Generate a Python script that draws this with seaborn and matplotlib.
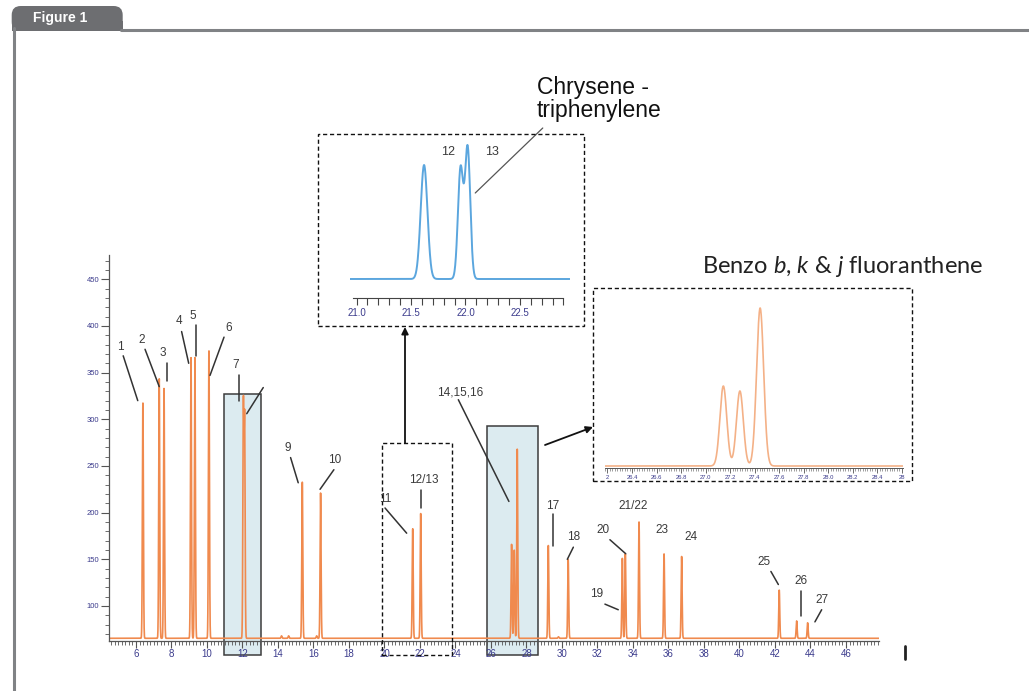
import numpy as np
import pandas as pd
import matplotlib
matplotlib.use("Agg")
import matplotlib.pyplot as plt
import seaborn as sns
from matplotlib.patches import Rectangle, FancyBboxPatch, FancyArrowPatch
from matplotlib.lines import Line2D
from matplotlib.ticker import MultipleLocator, FixedLocator

sns.set_style("white")
plt.rcParams['font.family'] = ['Liberation Sans', 'DejaVu Sans']
plt.rcParams['mathtext.fontset'] = 'custom'
plt.rcParams['mathtext.it'] = 'Lato:italic'

# ---- main chromatogram: retention time (min) and apex height of each peak
peak_times = [6.39, 7.31, 7.58, 9.10, 9.32, 10.11, 12.05, 12.12, 14.20, 14.60,
              15.37, 16.18, 16.40, 21.59, 22.04, 27.16, 27.31, 27.48, 29.23,
              29.80, 30.35, 33.40, 33.57, 34.34, 35.75, 36.74, 42.24, 43.22, 43.84]
peak_heights = [318, 344, 333, 366, 366, 374, 314, 298, 68, 68,
                233, 68, 221, 183, 199, 166, 160, 268, 165,
                67, 150, 151, 156, 190, 156, 153, 117, 84, 82]
baseline = 65.4

# peak labels and their leader lines (data units of the main chart)
labels = ['1', '2', '3', '4', '5', '6', '7', '9', '10', '11', '12/13', '14,15,16',
          '17', '18', '19', '20', '21/22', '23', '24', '25', '26', '27']
label_t = [5.10, 6.34, 7.52, 8.42, 9.21, 11.24, 11.63, 14.53, 17.21, 20.03, 22.19,
           24.25, 29.47, 30.64, 31.95, 32.33, 34.02, 35.62, 37.25, 41.38, 43.45, 44.66]
label_v = [377, 385, 371, 405, 411, 398, 358, 269, 256, 215, 235,
           329, 207, 174, 113, 181, 207, 181, 174, 147, 127, 106]
leaders = [((5.28, 368), (6.10, 320)), ((6.51, 375), (7.31, 335)),
           ((7.73, 360), (7.73, 341)), ((8.57, 394), (8.97, 360)),
           ((9.36, 401), (9.36, 368)), ((10.96, 388), (10.17, 347)),
           ((11.82, 347), (11.82, 320)), ((13.17, 334), (12.24, 306)),
           ((14.71, 259), (15.14, 232)), ((17.15, 246), (16.37, 225)),
           ((20.03, 205), (21.25, 178)), ((22.06, 224), (22.06, 205)),
           ((24.16, 321), (27.01, 212)), ((29.47, 199), (29.47, 164)),
           ((30.64, 163), (30.30, 150)), ((32.42, 102), (33.17, 96)),
           ((32.70, 171), (33.59, 156)), ((41.77, 137), (42.19, 123)),
           ((43.45, 116), (43.45, 89)), ((44.63, 96), (44.25, 83))]

# ---- inset 1: chrysene / triphenylene (peaks 11, 12, 13)
ins1_times = [21.62, 21.955, 22.02]
ins1_heights = [114, 110, 131]
ins1_widths = [0.031, 0.024, 0.024]
ins1_ticklabels = ['21.0', '21.5', '22.0', '22.5']

# ---- inset 2: benzo b, k & j fluoranthene (peaks 14-16)
ins2_times = [27.145, 27.28, 27.445]
ins2_heights = [80, 75, 158]
ins2_widths = [0.028, 0.028, 0.029]
ins2_ticks = [26.2, 26.4, 26.6, 26.8, 27.0, 27.2, 27.4, 27.6, 27.8, 28.0, 28.2, 28.4, 28.6]
ins2_ticklabels = ['2', '26.4', '26.6', '26.8', '27.0', '27.2', '27.4', '27.6',
                   '27.8', '28.0', '28.2', '28.4', '28']


def trace(t, times, heights, widths, base):
    y = np.full_like(t, base, dtype=float)
    for c, h, w in zip(times, heights, widths):
        y += (h - base) * np.exp(-0.5 * ((t - c) / w) ** 2)
    return y


W, H = 1029, 691
fig = plt.figure(figsize=(W / 100, H / 100), dpi=100)


def fr(px, py):
    return px / W, 1 - py / H


tick_col = '#3b3b8c'
lab_col = '#3a3a3a'

# ---------------- main chart
ax = fig.add_axes([109 / W, 1 - 641 / H, 770 / W, 386 / H])
t = np.arange(4.48, 47.86, 0.004)
main_df = pd.DataFrame({'time': t,
                        'signal': trace(t, peak_times, peak_heights,
                                        [0.028] * len(peak_times), baseline)})
sns.lineplot(data=main_df, x='time', y='signal', ax=ax, color='#f08a4e',
             linewidth=1.2, estimator=None, sort=False)
ax.set_xlim(4.48, 47.86)
ax.set_ylim(62.5, 476)
ax.set_xlabel('')
ax.set_ylabel('')
for s in ['top', 'right']:
    ax.spines[s].set_visible(False)
for s in ['left', 'bottom']:
    ax.spines[s].set_color('#555555')
    ax.spines[s].set_linewidth(0.9)
ax.xaxis.set_major_locator(MultipleLocator(2))
ax.xaxis.set_minor_locator(MultipleLocator(0.2))
ax.yaxis.set_major_locator(FixedLocator([100, 150, 200, 250, 300, 350, 400, 450]))
ax.yaxis.set_minor_locator(MultipleLocator(10))
ax.tick_params(axis='x', which='major', direction='out', length=5, width=0.8,
               color='#555555', labelsize=7, labelcolor=tick_col, pad=0.5, bottom=True)
ax.tick_params(axis='x', which='minor', direction='out', length=3, width=0.6,
               color='#555555', bottom=True)
ax.tick_params(axis='y', which='major', direction='out', length=6, width=0.8,
               color='#555555', labelsize=5.5, labelcolor=tick_col, pad=1, left=True)
ax.tick_params(axis='y', which='minor', direction='out', length=3, width=0.6,
               color='#555555', left=True)
ax.xaxis.set_major_formatter(matplotlib.ticker.FuncFormatter(lambda v, p: f'{v:.0f}'))

# highlighted regions
ax.add_patch(Rectangle((10.96, 48), 2.1, 327 - 48, facecolor='#dcebf0',
                       edgecolor='#3c3c3c', linewidth=1.1, clip_on=False, zorder=0.5))
ax.add_patch(Rectangle((25.77, 48), 2.89, 293 - 48, facecolor='#dcebf0',
                       edgecolor='#3c3c3c', linewidth=1.1, clip_on=False, zorder=0.5))
ax.add_patch(Rectangle((19.84, 47), 3.96, 275 - 47, fill=False, edgecolor='#111111',
                       linewidth=1.0, linestyle=(0, (3, 2)), clip_on=False, zorder=3))

for lab, lt, lv in zip(labels, label_t, label_v):
    ax.text(lt, lv, lab, ha='center', va='center', fontsize=8.5, color=lab_col)
for (x0, y0), (x1, y1) in leaders:
    ax.plot([x0, x1], [y0, y1], color='#333333', linewidth=1.1, zorder=4)

# ---------------- inset 1
ax1 = fig.add_axes([350 / W, 1 - 298 / H, 220 / W, 158 / H])
t1 = np.arange(20.94, 22.96, 0.002)
ins1_df = pd.DataFrame({'time': t1,
                        'signal': trace(t1, ins1_times, ins1_heights, ins1_widths, 0)})
sns.lineplot(data=ins1_df, x='time', y='signal', ax=ax1, color='#5ba6de',
             linewidth=1.4, estimator=None, sort=False)
ax1.set_xlim(20.94, 22.96)
ax1.set_ylim(-19, 139)
ax1.set_xlabel('')
ax1.set_ylabel('')
ax1.patch.set_alpha(0)
for s in ['top', 'right', 'left']:
    ax1.spines[s].set_visible(False)
ax1.spines['bottom'].set_color('#444444')
ax1.spines['bottom'].set_bounds(20.97, 22.9)
ax1.set_yticks([])
ax1.set_xticks([21.0, 21.5, 22.0, 22.5])
ax1.set_xticklabels(ins1_ticklabels)
ax1.xaxis.set_minor_locator(FixedLocator(np.arange(21.0, 22.95, 0.1)))
ax1.tick_params(axis='x', which='both', direction='out', length=5, width=0.8,
                color='#444444', labelsize=7, labelcolor=tick_col, pad=2, bottom=True)
ax1.text(21.84, 127, '12', ha='center', va='center', fontsize=9, color=lab_col)
ax1.text(22.24, 127, '13', ha='center', va='center', fontsize=9, color=lab_col)
ax1.plot([22.09, 22.71], [86, 151], color='#555555', linewidth=0.9, clip_on=False)

# ---------------- inset 2
ax2 = fig.add_axes([605 / W, 1 - 468 / H, 298 / W, 168 / H])
t2 = np.arange(26.18, 28.61, 0.002)
ins2_df = pd.DataFrame({'time': t2,
                        'signal': trace(t2, ins2_times, ins2_heights, ins2_widths, 0)})
sns.lineplot(data=ins2_df, x='time', y='signal', ax=ax2, color='#f4b187',
             linewidth=1.2, estimator=None, sort=False)
ax2.set_xlim(26.18, 28.61)
ax2.set_ylim(-2, 166)
ax2.set_xlabel('')
ax2.set_ylabel('')
ax2.patch.set_alpha(0)
for s in ['top', 'right', 'left']:
    ax2.spines[s].set_visible(False)
ax2.spines['bottom'].set_color('#555555')
ax2.spines['bottom'].set_linewidth(0.7)
ax2.set_yticks([])
ax2.set_xticks(ins2_ticks)
ax2.set_xticklabels(ins2_ticklabels)
ax2.xaxis.set_minor_locator(MultipleLocator(0.02))
ax2.tick_params(axis='x', which='major', direction='out', length=3.5, width=0.6,
                color='#555555', labelsize=4.2, labelcolor=tick_col, pad=1.5, bottom=True)
ax2.tick_params(axis='x', which='minor', direction='out', length=2, width=0.4,
                color='#555555', bottom=True)

# ---------------- dashed frames, arrows and titles
for (x0, y0, x1, y1) in [(318, 134, 584, 326), (593, 288, 912, 481)]:
    fig.add_artist(Rectangle(fr(x0, y1), (x1 - x0) / W, (y1 - y0) / H, fill=False,
                             edgecolor='#111111', linewidth=1.0, linestyle=(0, (3, 2)),
                             transform=fig.transFigure))
fig.add_artist(FancyArrowPatch(fr(405, 443), fr(405, 327), transform=fig.transFigure,
                               arrowstyle='-|>', mutation_scale=10, color='#111111',
                               linewidth=1.3, shrinkA=0, shrinkB=0))
fig.add_artist(FancyArrowPatch(fr(545, 445), fr(593, 427), transform=fig.transFigure,
                               arrowstyle='-|>', mutation_scale=10, color='#111111',
                               linewidth=1.3, shrinkA=0, shrinkB=0))

fig.text(*fr(537, 76), 'Chrysene -\ntriphenylene', ha='left', va='top',
         fontsize=16.5, color='#111111', linespacing=1.0)
fig.text(*fr(702, 273), r'Benzo $\mathit{b}$, $\mathit{k}$ & $\mathit{j}$ fluoranthene',
         ha='left', va='baseline', fontsize=17, color='#222222', family='Lato')

# small marker at the right end of the axis
fig.add_artist(Line2D([905 / W, 905 / W], [1 - 646 / H, 1 - 659 / H], color='#222222',
                      linewidth=2, transform=fig.transFigure))

# ---------------- "Figure 1" tab and frame
frame_col = '#808285'
fig.add_artist(Line2D([0.118, 1.0], [1 - 29.5 / H, 1 - 29.5 / H], color=frame_col,
                      linewidth=2.2, transform=fig.transFigure))
fig.add_artist(Line2D([13.5 / W, 13.5 / W], [1 - 28 / H, 0], color=frame_col,
                      linewidth=2.2, transform=fig.transFigure))
fig.add_artist(FancyBboxPatch((0.117, (H - 31) / 100), 1.11, 0.25,
                              boxstyle='round,pad=0,rounding_size=0.09',
                              facecolor='#6d6e71', edgecolor='none',
                              transform=fig.dpi_scale_trans))
fig.add_artist(Rectangle((0.117, (H - 31) / 100), 1.11, 0.1, facecolor='#6d6e71',
                         edgecolor='none', transform=fig.dpi_scale_trans))
fig.text(*fr(60, 18), 'Figure 1', ha='center', va='center', fontsize=10,
         fontweight='bold', color='white', family=['Liberation Sans Narrow', 'Liberation Sans'])

fig.savefig('out.png', dpi=100)
